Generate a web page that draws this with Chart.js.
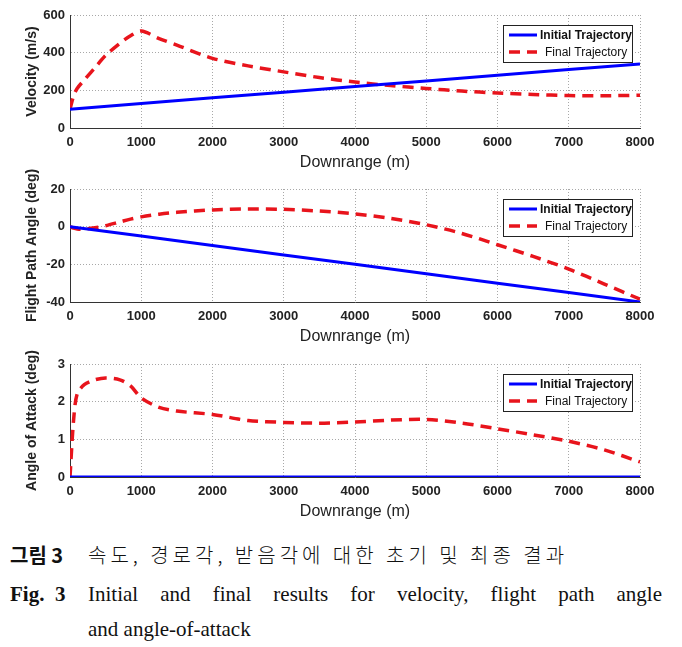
<!DOCTYPE html>
<html>
<head>
<meta charset="utf-8">
<script src="https://cdn.jsdelivr.net/npm/chart.js@4/dist/chart.umd.min.js"></script>
<style>
  body { margin: 0; background: #fff; width: 682px; height: 647px; position: relative; overflow: hidden; }
  canvas { position: absolute; left: 0; }
  .cap { position: absolute; left: 10px; width: 652px; font-family: "Liberation Serif", "DejaVu Serif", serif; font-size: 21px; color: #111; }
  .row { display: flex; }
  .lab { width: 78px; flex: none; }
  .txt { flex: 1; text-align: justify; text-align-last: justify; }
  .ko { font-family: "Noto Sans CJK KR", sans-serif; font-size: 20px; }
  .ko .t { letter-spacing: 4px; font-weight: 300; }
</style>
</head>
<body>
<canvas id="c1" width="682" height="175" style="top:0px"></canvas>
<canvas id="c2" width="682" height="195" style="top:154px"></canvas>
<canvas id="c3" width="682" height="195" style="top:329px"></canvas>

<div class="cap ko" style="top:540px"><div class="row"><div class="lab"><b>그림 3</b></div><div class="t">속도, 경로각, 받음각에 대한 초기 및 최종 결과</div></div></div>
<div class="cap" style="top:582px"><div class="row"><div class="lab"><b>Fig.&nbsp;&nbsp;3</b></div><div class="txt">Initial and final results for velocity, flight path angle</div></div></div>
<div class="cap" style="top:617px"><div class="row"><div class="lab"></div><div>and angle-of-attack</div></div></div>

<script>
// 横軸 (m)
const rangeInit = [0, 1000, 2000, 3000, 4000, 5000, 6000, 7000, 8000];
const rangeFinal = [0, 50, 100, 200, 350, 500, 700, 850, 1000, 1250, 1500, 2000, 2500, 3000, 3500, 4000, 4500, 5000, 5500, 6000, 6500, 7000, 7500, 8000];

const velInit = [100, 130, 160, 190, 220, 250, 280, 310, 340];
const velFinal = [100, 170, 210, 255, 320, 385, 450, 490, 515, 475, 440, 370, 330, 298, 268, 244, 225, 210, 196, 186, 178, 172, 171, 174];

const fpaInit = [0, -5, -10, -15, -20, -25, -30, -35, -40];
const fpaFinal = [0, -0.8, -1.2, -1.3, -0.6, 0.5, 2.5, 4, 5.2, 6.6, 7.6, 8.9, 9.4, 9.2, 8.3, 6.8, 4.4, 1, -3.6, -9.6, -15.8, -22.5, -30.5, -38.5];

const aoaInit = [0, 0, 0, 0, 0, 0, 0, 0, 0];
const aoaFinal = [0, 1.5, 2.2, 2.45, 2.58, 2.63, 2.58, 2.42, 2.1, 1.85, 1.75, 1.66, 1.5, 1.45, 1.43, 1.46, 1.51, 1.53, 1.43, 1.28, 1.12, 0.95, 0.72, 0.4];

const xTicks = [0, 1000, 2000, 3000, 4000, 5000, 6000, 7000, 8000];

function pts(xs, ys) {
    return xs.map((x, i) => ({x: x, y: ys[i]}));
}

// 凡例をプロット内に描く
const boxLegend = {
    id: 'boxLegend',
    afterDraw(chart) {
        const ctx = chart.ctx;
        const a = chart.chartArea;
        const w = 129, h = 37;
        const x0 = a.right - 8 - w, y0 = a.top + 10;
        ctx.save();
        ctx.fillStyle = '#fff';
        ctx.fillRect(x0, y0, w, h);
        ctx.strokeStyle = '#222';
        ctx.lineWidth = 1;
        ctx.strokeRect(x0 + 0.5, y0 + 0.5, w, h);
        chart.data.datasets.forEach((ds, i) => {
            const yy = y0 + 10 + i * 17;
            ctx.strokeStyle = ds.borderColor;
            ctx.lineWidth = ds.borderWidth;
            ctx.setLineDash(ds.borderDash || []);
            ctx.beginPath();
            ctx.moveTo(x0 + 6, yy);
            ctx.lineTo(x0 + 34, yy);
            ctx.stroke();
            ctx.setLineDash([]);
            ctx.fillStyle = '#111';
            ctx.font = (i === 0 ? 'bold ' : '') + '12px "Liberation Sans Narrow", "Liberation Sans", Arial, sans-serif';
            ctx.textBaseline = 'middle';
            ctx.fillText(ds.label, x0 + (i === 0 ? 37 : 42), yy + 1);
        });
        ctx.restore();
    }
};

function makeChart(id, yTitle, initVals, finalVals, yMin, yMax, yStep, padTop) {
    const ctx = document.getElementById(id).getContext('2d');
    return new Chart(ctx, {
        type: 'line',
        data: {
            datasets: [
                {
                    label: 'Initial Trajectory',
                    data: pts(rangeInit, initVals),
                    borderColor: '#0000ff',
                    borderWidth: 3,
                    pointRadius: 0,
                    fill: false
                },
                {
                    label: 'Final Trajectory',
                    data: pts(rangeFinal, finalVals),
                    borderColor: '#e8141c',
                    borderWidth: 3.5,
                    borderDash: [11, 7],
                    pointRadius: 0,
                    tension: 0.3,
                    fill: false
                }
            ]
        },
        options: {
            responsive: false,
            animation: false,
            devicePixelRatio: 1,
            layout: { padding: { top: padTop, right: 42, left: 0, bottom: 0 } },
            plugins: { legend: { display: false }, tooltip: { enabled: false } },
            scales: {
                x: {
                    type: 'linear',
                    min: 0, max: 8000,
                    afterBuildTicks: s => { s.ticks = xTicks.map(v => ({value: v})); },
                    afterFit: s => { s.height = 47; },
                    grid: { color: '#a8a8a8', lineWidth: 1, drawTicks: false },
                    border: { display: true, color: '#333', width: 1, dash: [1, 2] },
                    ticks: { color: '#222', padding: 7, maxRotation: 0, callback: v => String(v), font: { family: 'Liberation Sans, Arial', size: 13, weight: 'bold' } },
                    title: { display: true, text: 'Downrange (m)', color: '#222', padding: { top: 2, bottom: 3 }, font: { family: 'Liberation Sans, Arial', size: 16 } }
                },
                y: {
                    min: yMin, max: yMax,
                    ticks: { stepSize: yStep, color: '#222', padding: 5, font: { family: 'Liberation Sans, Arial', size: 13, weight: 'bold' } },
                    afterFit: s => { s.width = 70; },
                    grid: { color: '#a8a8a8', lineWidth: 1, drawTicks: false },
                    border: { display: true, color: '#333', width: 1, dash: [1, 2] },
                    title: { display: true, text: yTitle, color: '#222', padding: { top: 24, bottom: 2 }, font: { family: 'Liberation Sans, Arial', size: 14, weight: 'bold' } }
                }
            }
        },
        plugins: [boxLegend]
    });
}

makeChart('c1', 'Velocity (m/s)', velInit, velFinal, 0, 600, 200, 15);
makeChart('c2', 'Flight Path Angle (deg)', fpaInit, fpaFinal, -40, 20, 20, 35);
makeChart('c3', 'Angle of Attack (deg)', aoaInit, aoaFinal, 0, 3, 1, 35);
</script>
</body>
</html>
